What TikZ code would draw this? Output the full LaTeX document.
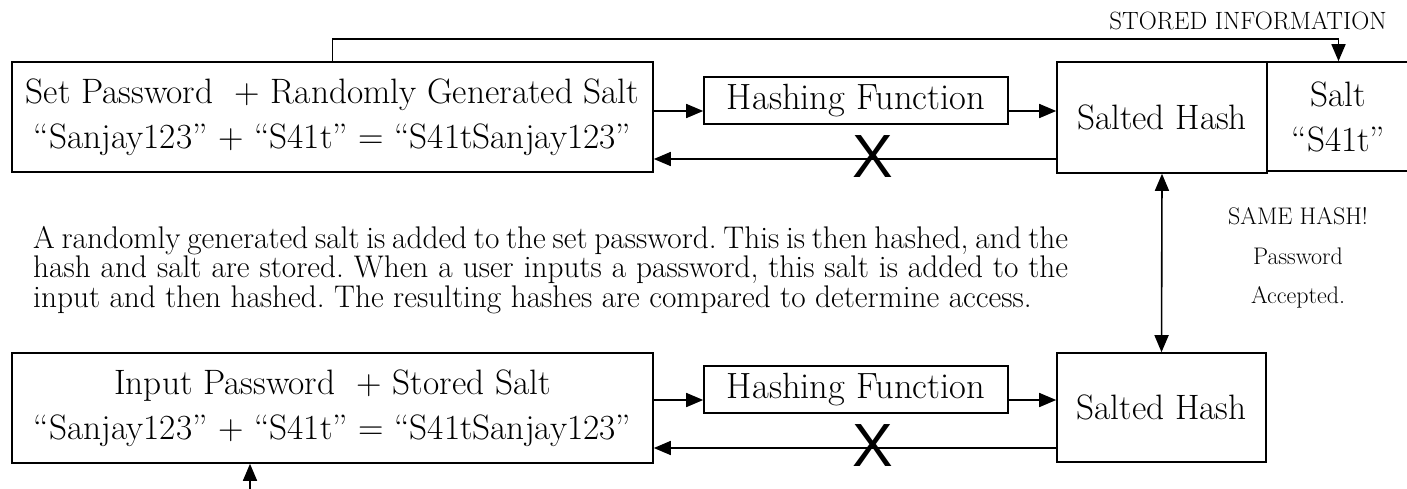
\documentclass[tikz,border=0pt]{standalone}
\usepackage{fontspec}
\newfontfamily\xfont{Liberation Sans}
\usetikzlibrary{arrows.meta}
\tikzset{
  box/.style={draw, line width=1.6pt, inner sep=0pt, align=center,
    font=\fontsize{35.3}{45}\selectfont},
  arr/.style={line width=1.6pt, -{Triangle[length=17pt,width=14pt]}},
  darr/.style={line width=1.6pt, {Triangle[length=17pt,width=14pt]}-{Triangle[length=17pt,width=14pt]}},
  cross/.style={inner sep=0pt, font=\xfont\fontsize{61}{61}\selectfont},
  note/.style={inner sep=0pt, align=center, font=\fontsize{24}{39.5}\selectfont},
}
\newcommand{\justline}[1]{\makebox[1035pt][s]{\spaceskip=.1em plus 1fil\relax #1}}
\begin{document}
\frenchspacing
\begin{tikzpicture}[x=1pt,y=-1pt]
\useasboundingbox (0,0) rectangle (1407,488);
% top row
\node[box, minimum width=641pt, minimum height=110pt] (set) at (332.5,117)
  {Set Password~ + Randomly Generated Salt\\ “Sanjay123” + “S41t” = “S41tSanjay123”};
\node[box, minimum width=304pt, minimum height=47pt] (hash1) at (856,100.5) {\fontsize{36.5}{45}\selectfont Hashing Function};
\node[box, minimum width=210pt, minimum height=111pt] (salted1) at (1162,117.5) {Salted Hash};
\node[box, minimum width=143pt, minimum height=109pt] (salt) at (1338.5,116.5) {Salt\\“S41t”};
\node[inner sep=0pt, font=\fontsize{25}{25}\selectfont] (stored) at (1248,21) {STORED INFORMATION};
% bottom row
\node[box, minimum width=641pt, minimum height=110pt] (input) at (332.5,408)
  {Input Password~ + Stored Salt\\ “Sanjay123” + “S41t” = “S41tSanjay123”};
\node[box, minimum width=304pt, minimum height=47pt] (hash2) at (856,389.5) {\fontsize{36.5}{45}\selectfont Hashing Function};
\node[box, minimum width=209pt, minimum height=109pt] (salted2) at (1161.5,407.5) {Salted Hash};
% texts
\node[note] (same) at (1298,258) {SAME HASH!\\Password\\Accepted.};
\node[inner sep=0pt, anchor=west, align=left, font=\fontsize{31.3}{29.5}\selectfont] (para) at (33,270)
  {\justline{A randomly generated salt is added to the set password. This is then hashed, and the}\\
   \justline{hash and salt are stored. When a user inputs a password, this salt is added to the}\\
   input and then hashed. The resulting hashes are compared to determine access.};
% connectors top
\draw[arr] (set.north) -- ++(0,-22) -| (salt.north);
\path ([yshift=6pt]set.east) coordinate (s1);
\draw[arr] (s1) -- (s1 -| hash1.west);
\draw[arr] (s1 -| hash1.east) -- (s1 -| salted1.west);
\path ([yshift=-41.5pt]salted1.west) coordinate (r1);
\draw[arr] (r1) -- (r1 -| set.east);
\node[cross] (x1) at (872.5,157) {X};
% vertical
\draw[darr] (salted1.south) -- (salted2.north);
% connectors bottom
\path ([yshift=8pt]input.east) coordinate (s2);
\draw[arr] (s2) -- (s2 -| hash2.west);
\draw[arr] (s2 -| hash2.east) -- (s2 -| salted2.west);
\path ([yshift=-40.5pt]salted2.west) coordinate (r2);
\draw[arr] (r2) -- (r2 -| input.east);
\node[cross] (x2) at (872.5,446) {X};
\coordinate (b0) at (250,490);
\draw[arr] (b0) -- (b0 |- input.south);
\end{tikzpicture}
\end{document}
